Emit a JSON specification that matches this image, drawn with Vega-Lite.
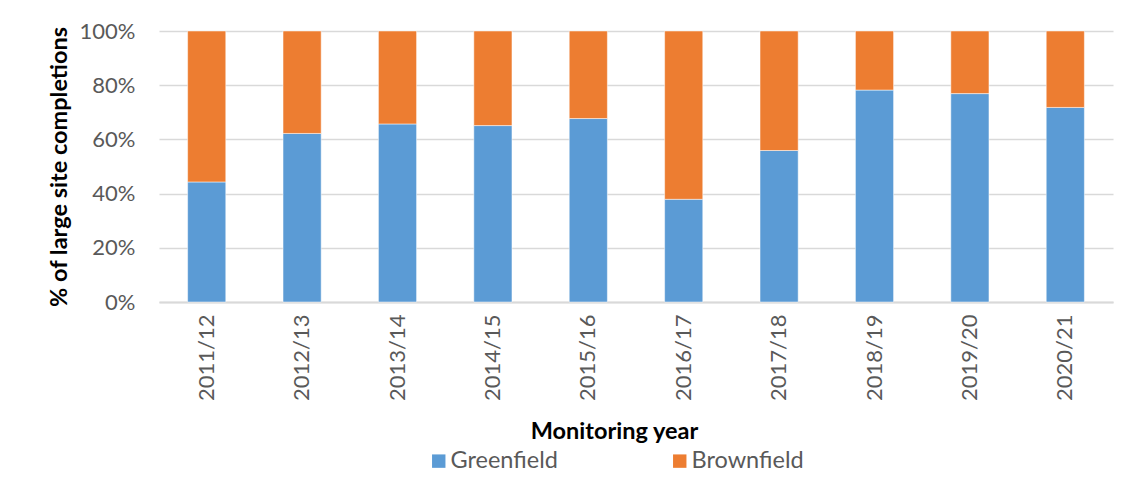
{
  "$schema": "https://vega.github.io/schema/vega-lite/v6.json",
  "width": 954,
  "height": 271,
  "autosize": {"type": "none"},
  "padding": {"left": 159, "top": 31, "right": 26, "bottom": 183},
  "background": "white",
  "data": {
    "values": [
      {"year": "2011/12", "type": "Greenfield", "share": 0.443},
      {"year": "2011/12", "type": "Brownfield", "share": 0.557},
      {"year": "2012/13", "type": "Greenfield", "share": 0.622},
      {"year": "2012/13", "type": "Brownfield", "share": 0.378},
      {"year": "2013/14", "type": "Greenfield", "share": 0.657},
      {"year": "2013/14", "type": "Brownfield", "share": 0.343},
      {"year": "2014/15", "type": "Greenfield", "share": 0.651},
      {"year": "2014/15", "type": "Brownfield", "share": 0.349},
      {"year": "2015/16", "type": "Greenfield", "share": 0.677},
      {"year": "2015/16", "type": "Brownfield", "share": 0.323},
      {"year": "2016/17", "type": "Greenfield", "share": 0.379},
      {"year": "2016/17", "type": "Brownfield", "share": 0.621},
      {"year": "2017/18", "type": "Greenfield", "share": 0.559},
      {"year": "2017/18", "type": "Brownfield", "share": 0.441},
      {"year": "2018/19", "type": "Greenfield", "share": 0.782},
      {"year": "2018/19", "type": "Brownfield", "share": 0.218},
      {"year": "2019/20", "type": "Greenfield", "share": 0.769},
      {"year": "2019/20", "type": "Brownfield", "share": 0.231},
      {"year": "2020/21", "type": "Greenfield", "share": 0.718},
      {"year": "2020/21", "type": "Brownfield", "share": 0.282}
    ]
  },
  "mark": {"type": "bar", "stroke": "white", "strokeWidth": 0.5},
  "encoding": {
    "x": {
      "field": "year",
      "type": "nominal",
      "sort": null,
      "scale": {"paddingInner": 0.6, "paddingOuter": 0.3},
      "axis": {
        "title": "Monitoring year",
        "titleFont": "Lato",
        "titleFontSize": 23.5,
        "titleFontWeight": "bold",
        "titleColor": "black",
        "titleX": 455,
        "titleAlign": "center",
        "titlePadding": 19,
        "labelAngle": -90,
        "labelFont": "Lato",
        "labelFontSize": 22,
        "labelColor": "#595959",
        "labelPadding": 12,
        "ticks": false,
        "domainColor": "#d9d9d9",
        "domainWidth": 2
      }
    },
    "y": {
      "field": "share",
      "type": "quantitative",
      "stack": true,
      "scale": {"domain": [0, 1]},
      "axis": {
        "title": "% of large site completions",
        "titleFont": "Lato",
        "titleFontSize": 23.5,
        "titleFontWeight": "bold",
        "titleColor": "black",
        "titlePadding": 8,
        "format": ".0%",
        "values": [0, 0.2, 0.4, 0.6, 0.8, 1],
        "labelOverlap": false,
        "labelFont": "Lato",
        "labelFontSize": 22,
        "labelColor": "#595959",
        "labelPadding": 24,
        "ticks": false,
        "domain": false,
        "gridColor": "#d9d9d9",
        "gridWidth": 1.5
      }
    },
    "color": {
      "field": "type",
      "type": "nominal",
      "scale": {"domain": ["Greenfield", "Brownfield"], "range": ["#5B9BD5", "#ED7D31"]},
      "legend": {
        "title": null,
        "orient": "none",
        "direction": "horizontal",
        "legendX": 268,
        "legendY": 418,
        "symbolType": "square",
        "symbolSize": 180,
        "symbolStrokeWidth": 0,
        "labelFont": "Lato",
        "labelFontSize": 23.5,
        "labelColor": "#595959",
        "labelOffset": 0,
        "columnPadding": 110
      }
    },
    "order": {"field": "type", "sort": "descending"}
  },
  "config": {"view": {"stroke": null}}
}
